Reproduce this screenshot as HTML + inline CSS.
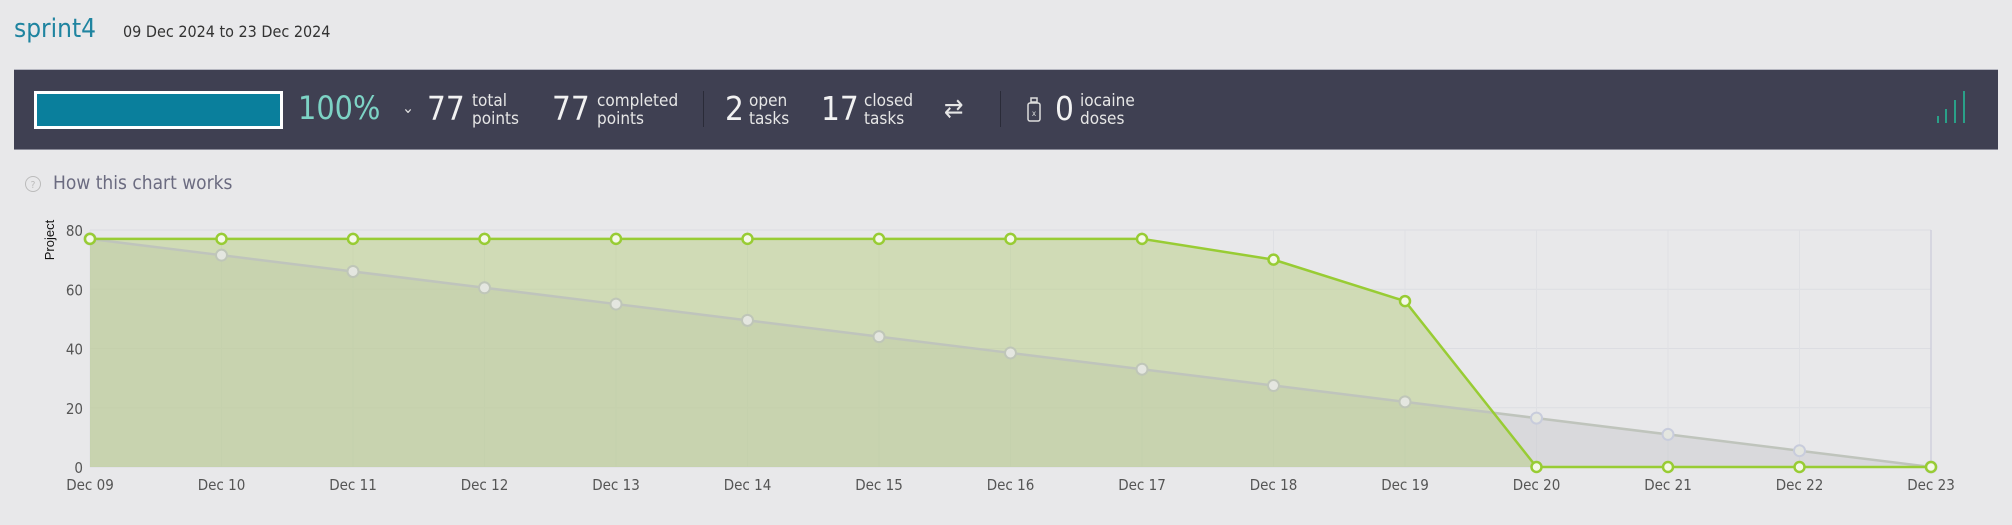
<!DOCTYPE html>
<html><head><meta charset="utf-8"><style>
body{margin:0;width:2012px;height:525px;background:#e8e8ea;font-family:"DejaVu Sans Condensed","Liberation Sans Narrow","Liberation Sans",sans-serif;position:relative;overflow:hidden}
.a{position:absolute;white-space:nowrap}
.big{font-size:33px;color:#f2f2f2;font-weight:300}
.sm{font-size:17px;color:#e6e6e6;line-height:18px}
</style></head><body>
<div class="a" style="left:14px;top:14px;font-size:26px;color:#1f84a0">sprint4</div>
<div class="a" style="left:123px;top:22px;font-size:16px;color:#333">09 Dec 2024 to 23 Dec 2024</div>
<div class="a" style="left:14px;top:69px;width:1984px;height:81px;background:#3f4052;border-top:1px solid #b5b6c0;border-bottom:1px solid #8a8b98;box-sizing:border-box"></div>
<div class="a" style="left:34px;top:91px;width:249px;height:38px;background:#fff;box-sizing:border-box;padding:3px"><div style="width:100%;height:100%;background:#0a7f9c"></div></div>
<div class="a" style="left:298px;top:89px;font-size:32px;color:#7dd3c5">100%</div>
<div class="a" style="left:402px;top:98px;font-size:16px;color:#ddd">⌄</div>
<div class="a big" style="left:427px;top:89px">77</div>
<div class="a sm" style="left:472px;top:92px">total<br>points</div>
<div class="a big" style="left:552px;top:89px">77</div>
<div class="a sm" style="left:597px;top:92px">completed<br>points</div>
<div class="a" style="left:703px;top:91px;width:1px;height:36px;background:#2a2b38"></div>
<div class="a big" style="left:725px;top:89px">2</div>
<div class="a sm" style="left:749px;top:92px">open<br>tasks</div>
<div class="a big" style="left:821px;top:89px">17</div>
<div class="a sm" style="left:864px;top:92px">closed<br>tasks</div>
<div class="a" style="left:944px;top:94px;font-size:26px;color:#e6e6e6">⇄</div>
<div class="a" style="left:1000px;top:91px;width:1px;height:36px;background:#2a2b38"></div>
<svg class="a" style="left:1026px;top:97px" width="16" height="26"><rect x="5" y="1" width="6" height="4" fill="none" stroke="#ddd" stroke-width="1.5"/><rect x="2" y="6" width="12" height="18" rx="2" fill="none" stroke="#ddd" stroke-width="1.5"/><text x="8" y="19" font-size="8" fill="#ddd" text-anchor="middle">x</text></svg>
<div class="a big" style="left:1055px;top:89px">0</div>
<div class="a sm" style="left:1080px;top:92px">iocaine<br>doses</div>
<svg class="a" style="left:1936px;top:88px" width="30" height="36"><g stroke="#2aa088" stroke-width="2"><line x1="2" y1="35" x2="2" y2="28"/><line x1="10" y1="35" x2="10" y2="21"/><line x1="19" y1="35" x2="19" y2="12"/><line x1="28" y1="35" x2="28" y2="3"/></g></svg>
<svg class="a" style="left:24px;top:175px" width="18" height="18"><circle cx="9" cy="9" r="7.5" fill="none" stroke="#bbb"/><text x="9" y="13" font-size="10" fill="#bbb" text-anchor="middle">?</text></svg>
<div class="a" style="left:53px;top:172px;font-size:19px;color:#6b6b80">How this chart works</div>
<svg id="chart" class="a" style="left:0;top:200px" width="2012" height="325"></svg>
<script>
const categories=["Dec 09","Dec 10","Dec 11","Dec 12","Dec 13","Dec 14","Dec 15","Dec 16","Dec 17","Dec 18","Dec 19","Dec 20","Dec 21","Dec 22","Dec 23"];
const idealValues=[77,71.5,66,60.5,55,49.5,44,38.5,33,27.5,22,16.5,11,5.5,0];
const actualValues=[77,77,77,77,77,77,77,77,77,70,56,0,0,0,0];
const yTicks=[0,20,40,60,80];
const NS="http://www.w3.org/2000/svg";
const svg=document.getElementById('chart');
const X0=90,X1=1931,Y0=267,Y80=30;
const xs=i=>X0+(X1-X0)*i/(categories.length-1);
const ys=v=>Y0-(Y0-Y80)*v/80;
function mk(t,a,p){const e=document.createElementNS(NS,t);for(const k in a)e.setAttribute(k,a[k]);(p||svg).appendChild(e);return e;}
yTicks.forEach(v=>{
 const g=mk('line',{x1:X0,x2:X1,y1:ys(v),y2:ys(v),stroke:'#dcdde2','stroke-width':1});
 
 
 const t=mk('text',{x:83,y:ys(v)+6,'text-anchor':'end','font-size':15,fill:'#555','font-family':'DejaVu Sans Condensed, Liberation Sans, sans-serif'});
 t.textContent=v;
 
 
});
categories.forEach((c,i)=>{
 const g=mk('line',{x1:xs(i),x2:xs(i),y1:Y80,y2:Y0,stroke:i==categories.length-1?'#cfd0dc':'#dfe0e4','stroke-width':i==categories.length-1?1.5:1});
 
 
 const t=mk('text',{x:xs(i),y:290,'text-anchor':'middle','font-size':15,fill:'#555','font-family':'DejaVu Sans Condensed, Liberation Sans, sans-serif'});
 t.textContent=c;
 
 
});
const yt=mk('text',{transform:'translate(54,40) rotate(-90)','text-anchor':'middle','font-size':13,fill:'#111','font-family':'Liberation Sans, sans-serif'});
yt.textContent='Project';


function area(vals,fill,name){
 let d='M'+xs(0)+','+Y0;vals.forEach((v,i)=>d+=' L'+xs(i)+','+ys(v));d+=' L'+xs(vals.length-1)+','+Y0+'Z';
 const p=mk('path',{d:d,fill:fill});
 
 
}
function line(vals,stroke,name){
 let d='';vals.forEach((v,i)=>d+=(i?' L':'M')+xs(i)+','+ys(v));
 const p=mk('path',{d:d,fill:'none',stroke:stroke,'stroke-width':2.5});
 
 
}
area(idealValues,'rgba(200,200,205,0.45)','ideal-area');
area(actualValues,'rgba(180,205,120,0.45)','actual-area');
line(idealValues,'#bfc4bc','ideal-line');
idealValues.forEach((v,i)=>{const c=mk('circle',{cx:xs(i),cy:ys(v),r:5.5,fill:'#e4e6e0',stroke:i>10?'#c8ccdc':'#bfc6b8','stroke-width':2});
 
 });
line(actualValues,'#98cc34','actual-line');
actualValues.forEach((v,i)=>{const c=mk('circle',{cx:xs(i),cy:ys(v),r:5,fill:'#f4f8e8',stroke:'#98cc34','stroke-width':2.5});
 
 });
</script>
</body></html>
